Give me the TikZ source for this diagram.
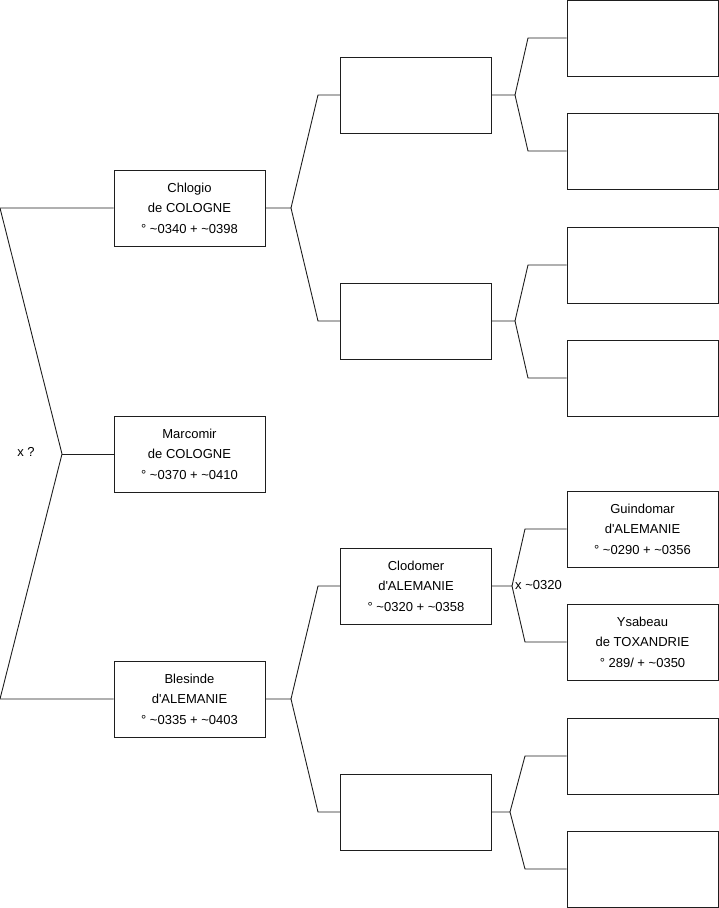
\documentclass[tikz,border=0pt]{standalone}
\usepackage{fontspec}
\setmainfont{Liberation Sans}
\usetikzlibrary{positioning, calc}
\definecolor{boxline}{RGB}{30, 30, 30}

\begin{document}
\begin{tikzpicture}[x=1pt, y=-1pt,
    person/.style={draw=boxline, line width=0.9pt, minimum width=151pt, minimum height=76pt,
                   align=center, inner sep=2pt, font=\fontsize{13}{20.5}\selectfont},
    link/.style={draw=boxline, line width=0.9pt},
    note/.style={font=\fontsize{13}{15}\selectfont, inner sep=1pt}]
  \useasboundingbox (0,0) rectangle (719,908);

  % generation 1
  \node[person] (chlogio) at (189.5,208) {Chlogio\\de COLOGNE\\° \textasciitilde0340 + \textasciitilde0398};
  \node[person] (marcomir) at (189.5,454) {Marcomir\\de COLOGNE\\° \textasciitilde0370 + \textasciitilde0410};
  \node[person] (blesinde) at (189.5,699) {Blesinde\\d\textquotesingle ALEMANIE\\° \textasciitilde0335 + \textasciitilde0403};

  % generation 2
  \node[person] (pA) at (416,95) {};
  \node[person] (pB) at (416,321) {};
  \node[person] (clodomer) at (416,586) {Clodomer\\d\textquotesingle ALEMANIE\\° \textasciitilde0320 + \textasciitilde0358};
  \node[person] (pD) at (416,812) {};

  % generation 3
  \node[person] (gA1) at (642.5,38) {};
  \node[person] (gA2) at (642.5,151) {};
  \node[person] (gB1) at (642.5,265) {};
  \node[person] (gB2) at (642.5,378) {};
  \node[person] (guindomar) at (642.5,529) {Guindomar\\d\textquotesingle ALEMANIE\\° \textasciitilde0290 + \textasciitilde0356};
  \node[person] (ysabeau) at (642.5,642) {Ysabeau\\de TOXANDRIE\\° 289/ + \textasciitilde0350};
  \node[person] (gD1) at (642.5,756) {};
  \node[person] (gD2) at (642.5,869) {};

  % fork points
  \coordinate (r1) at (0,208);
  \coordinate (r3) at (0,699);
  \coordinate (f0) at (62,454);
  \coordinate (f1) at (291,208);
  \coordinate (f3) at (291,699);
  \coordinate (fA) at (515,95);
  \coordinate (fB) at (515,321);
  \coordinate (fC) at (512,586);
  \coordinate (fD) at (510,812);

  % links
  \draw[link] (chlogio.west) -- (r1) -- (f0) -- (r3) -- (blesinde.west);
  \draw[link] (f0) -- (marcomir.west);
  \node[note] (m0) at (26,452) {x ?};

  \draw[link] (chlogio.east) -- (f1) -- (318,95) -- (pA.west);
  \draw[link] (f1) -- (318,321) -- (pB.west);
  \draw[link] (blesinde.east) -- (f3) -- (318,586) -- (clodomer.west);
  \draw[link] (f3) -- (318,812) -- (pD.west);

  \draw[link] (pA.east) -- (fA) -- (528,38) -- (gA1.west);
  \draw[link] (fA) -- (528,151) -- (gA2.west);
  \draw[link] (pB.east) -- (fB) -- (528,265) -- (gB1.west);
  \draw[link] (fB) -- (528,378) -- (gB2.west);
  \draw[link] (clodomer.east) -- (fC) -- (525,529) -- (guindomar.west);
  \draw[link] (fC) -- (525,642) -- (ysabeau.west);
  \node[note, anchor=west] (m1) at (514,585) {x \textasciitilde0320};
  \draw[link] (pD.east) -- (fD) -- (525,756) -- (gD1.west);
  \draw[link] (fD) -- (525,869) -- (gD2.west);
\end{tikzpicture}
\end{document}
